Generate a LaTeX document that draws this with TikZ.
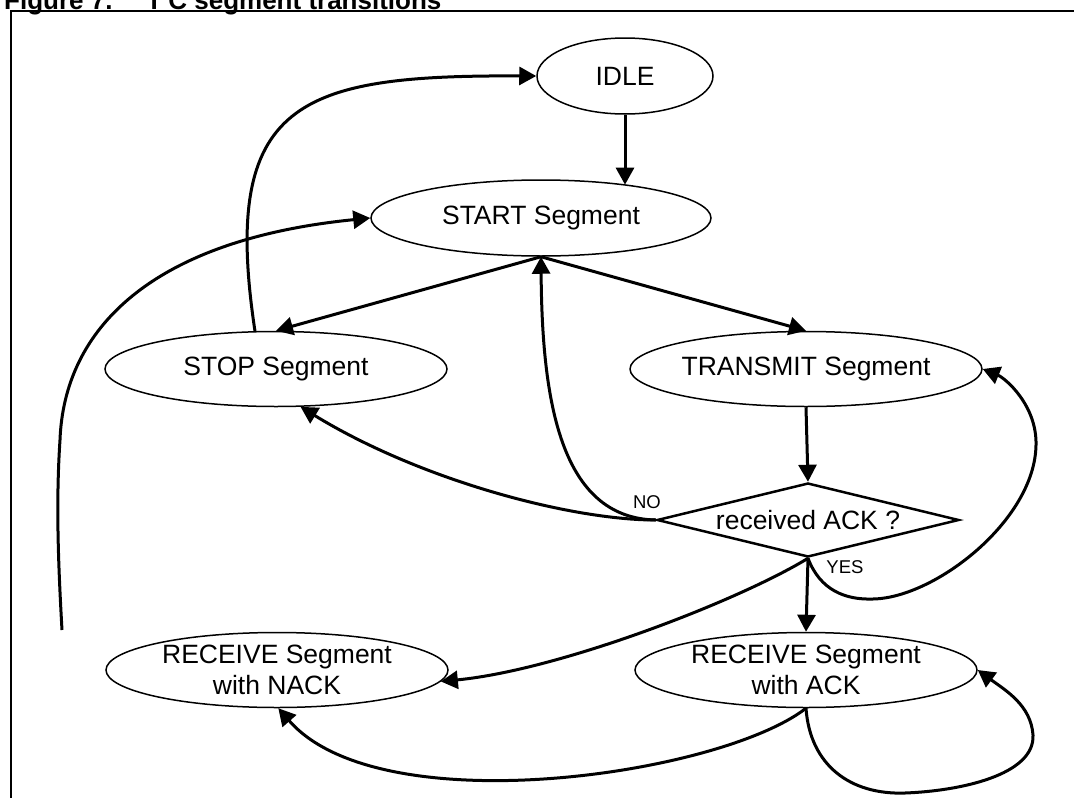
\documentclass[tikz,border=0pt]{standalone}
\usepackage{fontspec}
\setmainfont{Liberation Sans}
\usetikzlibrary{shapes.geometric,arrows.meta,calc}
\begin{document}
\begin{tikzpicture}[x=1pt,y=-1pt,
  state/.style={ellipse,draw,line width=1.5pt,inner sep=0pt,minimum width=342pt,minimum height=75pt,font=\fontsize{26.5}{31}\selectfont,align=center},
  decision/.style={diamond,draw,line width=2.5pt,inner sep=0pt,aspect=4.08,minimum width=302pt,minimum height=74pt,font=\fontsize{26.5}{31}\selectfont},
  conn/.style={line width=3pt,-{Triangle[length=17pt,width=18pt]}},
  tag/.style={font=\fontsize{18.5}{22}\selectfont,inner sep=0pt},
]
\useasboundingbox (0,0) rectangle (1074,798);
\fill[white] (0,0) rectangle (1074,798);
\node[anchor=base west,inner sep=0pt,font=\bfseries\fontsize{26}{30}\selectfont] (title) at (4,9) {Figure 7.\hspace{38pt}I\textsuperscript{2}C segment transitions};
\draw[line width=2.7pt] (11,830) -- (11,11) -- (1100,11);

\node[state,minimum width=176pt,minimum height=76pt] (idle) at (625,76) {IDLE};
\node[state,minimum width=340pt,minimum height=76pt] (start) at (541,218) {START Segment};
\node[state] (stop) at (276,369) {STOP Segment};
\node[state] (transmit) at (806,369) {TRANSMIT Segment};
\node[decision] (dec) at (808,520) {received ACK ?};
\node[state] (rnack) at (277,670) {RECEIVE Segment\\with NACK};
\node[state] (rack) at (806,670) {RECEIVE Segment\\with ACK};
\coordinate (nackend) at (62,630);

\node[tag] (no) at (647,502) {NO};
\node[tag] (yes) at (845,567) {YES};

\draw[conn] (idle.south) -- (idle.south |- start.21);
\draw[conn] (start.south) -- (stop.north);
\draw[conn] (start.south) -- (transmit.north);
\draw[conn] (stop.119) .. controls (220,100) and (300,75) .. (idle.west);
\draw[conn] (nackend) .. controls (58,560) and (56,500) .. (60,440) .. controls (64,330) and (150,240) .. (start.west);
\draw[conn] (dec.west) .. controls (570,520) and (420,480) .. (stop.-57);
\draw[conn] (dec.west) .. controls (560,518) and (542,400) .. (start.south);
\draw[conn] (transmit.south) -- (dec.north);
\draw[conn] (dec.south) -- (rack.north);
\draw[conn] (dec.south) .. controls (740,600) and (560,670) .. (rnack.-4);
\draw[conn] (dec.south) .. controls (820,590) and (845,600) .. (873,599) .. controls (935,598) and (1035,520) .. (1036,445) .. controls (1037,405) and (1005,378) .. (transmit.east);
\draw[conn] (rack.south) .. controls (720,775) and (380,825) .. (rnack.-88);
\draw[conn] (rack.south) .. controls (810,765) and (850,795) .. (905,793) .. controls (960,791) and (1035,775) .. (1033,735) .. controls (1031,705) and (1005,690) .. (rack.east);
\end{tikzpicture}
\end{document}
